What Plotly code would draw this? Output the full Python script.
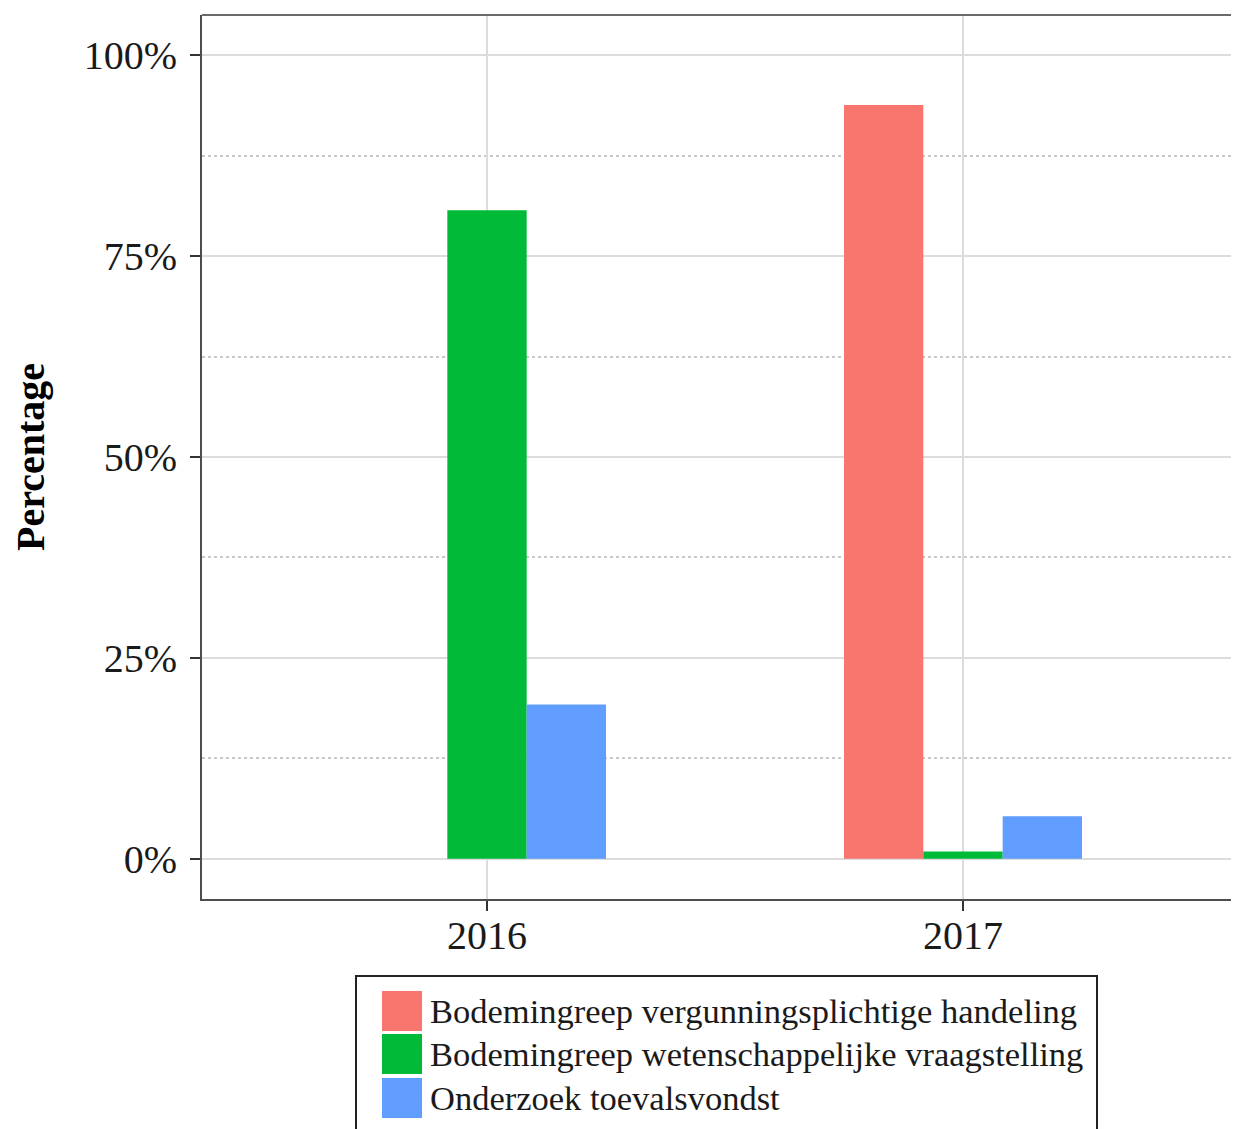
import plotly.graph_objects as go

# data
years = ["2016", "2017"]
categories = [
    "Bodemingreep vergunningsplichtige handeling",
    "Bodemingreep wetenschappelijke vraagstelling",
    "Onderzoek toevalsvondst",
]
values = {
    "Bodemingreep vergunningsplichtige handeling": [None, 93.8],
    "Bodemingreep wetenschappelijke vraagstelling": [80.7, 0.9],
    "Onderzoek toevalsvondst": [19.2, 5.3],
}
colors = ["#F8766D", "#00BA38", "#619CFF"]
y_ticks = [0, 25, 50, 75, 100]
y_tick_labels = ["0%", "25%", "50%", "75%", "100%"]

# page is 1239x1129 but the html body has an 8px margin
PAGE_OFF = 8
W, H = 1239 - PAGE_OFF, 1129 - PAGE_OFF
FONT = "Liberation Serif"

# panel position on the page, in page pixels
PLOT_L, PLOT_T, PLOT_B = 202, 15, 899
PLOT_R = W + PAGE_OFF
M_L = PLOT_L - PAGE_OFF
M_T = PLOT_T - PAGE_OFF
M_B = H + PAGE_OFF - PLOT_B
M_R = 0


def px_x(px):
    # page pixel -> paper x
    return (px - PLOT_L) / (PLOT_R - PLOT_L)


def px_y(py):
    # page pixel -> paper y
    return (PLOT_B - py) / (PLOT_B - PLOT_T)


fig = go.Figure()
for cat, col in zip(categories, colors):
    fig.add_trace(
        go.Bar(x=years, y=values[cat], name=cat, marker_color=col,
               marker_line_width=0, showlegend=False)
    )

# category axis: 2016 at x=487, 2017 at x=963 on the page
cat_px = 963 - 487
x_lo = -(487 - PLOT_L) / cat_px
x_hi = x_lo + (PLOT_R - PLOT_L) / cat_px

fig.update_layout(
    width=W,
    height=H,
    margin=dict(l=M_L, r=M_R, t=M_T, b=M_B),
    barmode="group",
    bargap=0.5,
    bargroupgap=0,
    plot_bgcolor="white",
    paper_bgcolor="white",
    font=dict(family=FONT, color="#1a1a1a", size=40),
    xaxis=dict(
        type="category",
        range=[x_lo, x_hi],
        showline=True, linecolor="#4d4d4d", linewidth=2,
        ticks="outside", ticklen=10, tickwidth=2, tickcolor="#333333",
        showgrid=True, gridcolor="#dcdcdc", gridwidth=2,
        tickfont=dict(size=40, color="#1a1a1a"),
        ticklabelstandoff=-10,
        zeroline=False,
    ),
    yaxis=dict(
        range=[-5, 105],
        tickvals=y_ticks,
        ticktext=y_tick_labels,
        showline=True, linecolor="#4d4d4d", linewidth=2,
        ticks="outside", ticklen=10, tickwidth=2, tickcolor="#333333",
        showgrid=True, gridcolor="#dcdcdc", gridwidth=2,
        minor=dict(dtick=12.5, tick0=0, showgrid=True, gridcolor="#c8c8c8",
                   griddash="dot", gridwidth=1.5, ticks=""),
        tickfont=dict(size=40, color="#1a1a1a"),
        ticklabelstandoff=5,
        zeroline=False,
        title=dict(text="<b>Percentage</b>", font=dict(size=40, color="black"),
                   standoff=30),
    ),
)

# top border of the panel
fig.add_shape(type="line", xref="paper", yref="paper", x0=0, x1=1, y0=1, y1=1,
              line=dict(color="#6a6a6a", width=2))

# legend drawn by hand so the keys match the reference size
fig.add_shape(type="rect", xref="paper", yref="paper",
              x0=px_x(356), x1=px_x(1097), y0=px_y(976), y1=px_y(1160),
              line=dict(color="#222222", width=2), fillcolor="white", layer="above")
row_centers = [1011, 1054, 1098]
for cat, col, cy in zip(categories, colors, row_centers):
    fig.add_shape(type="rect", xref="paper", yref="paper",
                  x0=px_x(382), x1=px_x(422), y0=px_y(cy - 20), y1=px_y(cy + 20),
                  line=dict(width=0), fillcolor=col, layer="above")
    fig.add_annotation(xref="paper", yref="paper", x=px_x(428), y=px_y(cy),
                       text=cat, showarrow=False, xanchor="left", yanchor="middle",
                       font=dict(family=FONT, size=34.5, color="#1a1a1a"))

fig.write_html("out.html")
